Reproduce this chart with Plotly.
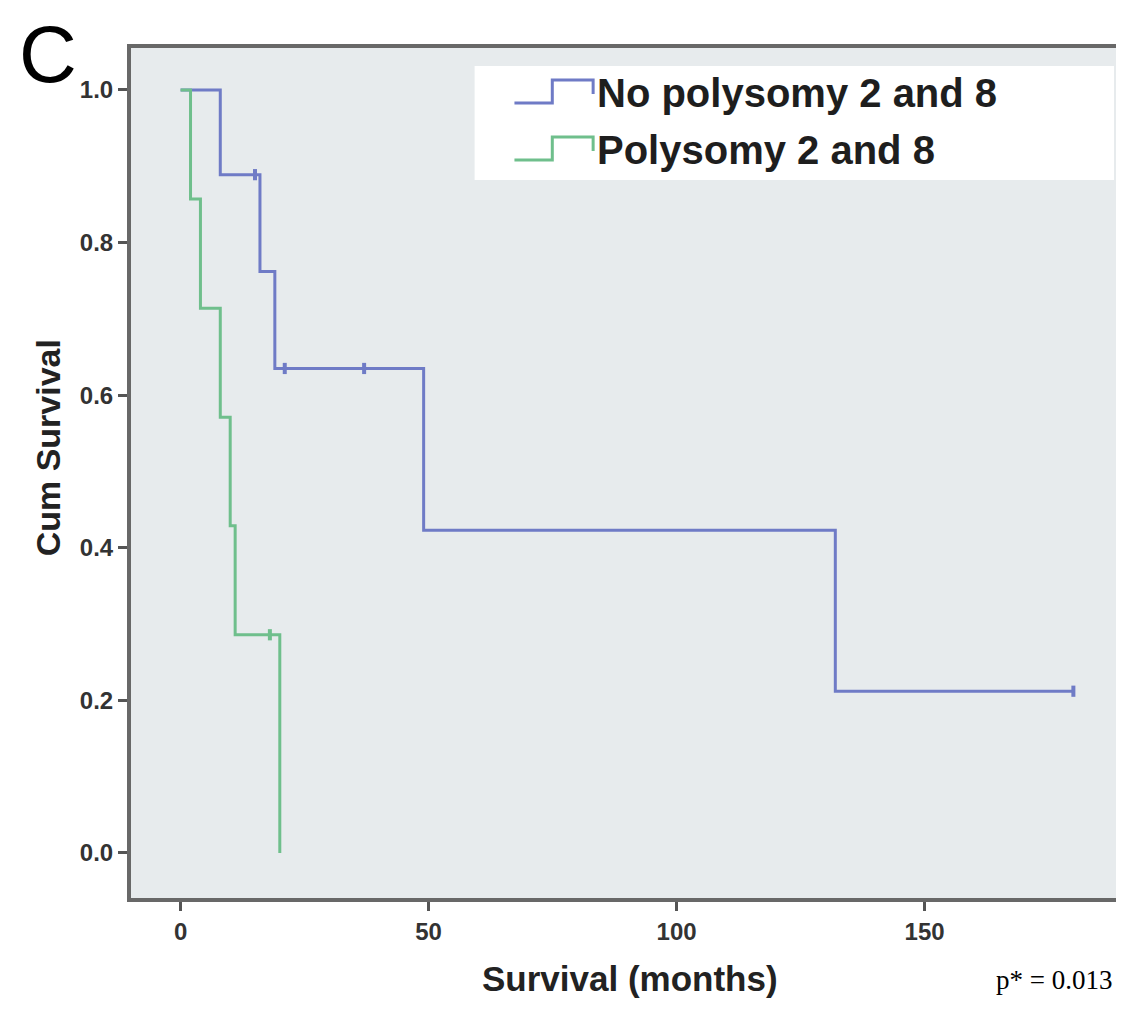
import plotly.graph_objects as go

# ---- data ----
series_names = ["No polysomy 2 and 8", "Polysomy 2 and 8"]
blue_time = [0, 8, 16, 19, 49, 132, 180]
blue_surv = [1.0, 0.889, 0.762, 0.635, 0.423, 0.212, 0.212]
blue_cens_time = [15, 21, 37, 180]
blue_cens_surv = [0.889, 0.635, 0.635, 0.212]

green_time = [0, 2, 4, 8, 10, 11, 20]
green_surv = [1.0, 0.857, 0.714, 0.571, 0.429, 0.286, 0.0]
green_cens_time = [18]
green_cens_surv = [0.286]

x_ticks = [0, 50, 100, 150]
y_ticks = [0.0, 0.2, 0.4, 0.6, 0.8, 1.0]

x_title = "Survival (months)"
y_title = "Cum Survival"
panel_label = "C"
p_text = "p* = 0.013"

BLUE = "#6f7bc6"
GREEN = "#6fbf8c"

W, H = 1124, 1010
L, R, T, B = 123, 1117, 40, 890


def px(x):
    return (x - L) / (R - L)


def py(y):
    return (B - y) / (B - T)


fig = go.Figure()
for t, s, ct, cs, col, name in [
    (blue_time, blue_surv, blue_cens_time, blue_cens_surv, BLUE, series_names[0]),
    (green_time, green_surv, green_cens_time, green_cens_surv, GREEN, series_names[1]),
]:
    fig.add_trace(go.Scatter(x=t, y=s, mode="lines", line=dict(color=col, width=3, shape="hv"),
                             name=name, showlegend=False))
    fig.add_trace(go.Scatter(x=ct, y=cs, mode="markers",
                             marker=dict(symbol="line-ns-open", size=8, color=col, line=dict(color=col, width=4)),
                             showlegend=False, hoverinfo="skip"))

tick_font = dict(family="Liberation Sans", size=24, color="#333333", weight="bold")
common = dict(ticks="outside", ticklen=9, tickwidth=3, tickcolor="#555555", showgrid=False, zeroline=False,
              showline=True, linewidth=4, linecolor="#686868", mirror=True, tickfont=tick_font)
fig.update_xaxes(range=[-10.0, 189.6], tickvals=x_ticks, **common)
fig.update_yaxes(range=[-0.059, 1.055], tickvals=y_ticks, tickformat=".1f", **common)

shapes = []
annotations = []
# legend box
shapes.append(dict(type="rect", xref="paper", yref="paper", x0=px(468), x1=px(1110), y0=py(172), y1=py(58),
                   fillcolor="white", line=dict(width=0), layer="above"))
for i, (name, col) in enumerate(zip(series_names, [BLUE, GREEN])):
    yc = 85 + i * 57
    lo, hi = yc + 10, yc - 13
    path = (f"M {px(508)} {py(lo)} L {px(546)} {py(lo)} L {px(546)} {py(hi)} "
            f"L {px(587)} {py(hi)} L {px(587)} {py(hi + 14)}")
    shapes.append(dict(type="path", xref="paper", yref="paper", path=path,
                       line=dict(color=col, width=3), layer="above"))
    annotations.append(dict(xref="paper", yref="paper", x=px(589), y=py(yc), text=name,
                            showarrow=False, xanchor="left", yanchor="middle",
                            font=dict(family="Liberation Sans", size=40, color="#1e1e1e", weight="bold")))

annotations.append(dict(xref="paper", yref="paper", x=px(40), y=py(0), text=panel_label, showarrow=False,
                        xanchor="center", yanchor="top",
                        font=dict(family="Liberation Sans", size=80, color="#000000")))
annotations.append(dict(xref="paper", yref="paper", x=px(624), y=py(970), text=x_title, showarrow=False,
                        xanchor="center", yanchor="middle",
                        font=dict(family="Liberation Sans", size=35, color="#222222", weight="bold")))
annotations.append(dict(xref="paper", yref="paper", x=px(40), y=py(440), text=y_title, showarrow=False,
                        xanchor="center", yanchor="middle", textangle=-90,
                        font=dict(family="Liberation Sans", size=34, color="#222222", weight="bold")))
annotations.append(dict(xref="paper", yref="paper", x=px(1110), y=py(972), text=p_text, showarrow=False,
                        xanchor="right", yanchor="middle",
                        font=dict(family="Liberation Serif", size=27, color="#000000")))

fig.update_layout(width=W, height=H, margin=dict(l=L, r=W - R, t=T, b=H - B),
                  paper_bgcolor="white", plot_bgcolor="#e7ebed", shapes=shapes, annotations=annotations,
                  showlegend=False)
fig.write_html("out.html")
